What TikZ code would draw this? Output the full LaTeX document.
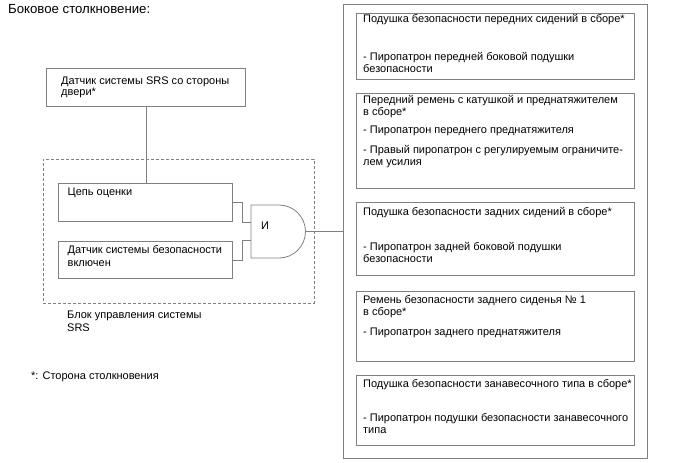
\documentclass[tikz,border=0pt]{standalone}
\usepackage{fontspec}
\setmainfont{Liberation Sans}
\definecolor{linegray}{RGB}{128,128,128}
\begin{document}
\begin{tikzpicture}[x=1pt,y=-1pt,
  box/.style={draw=linegray, line width=0.8pt, anchor=north west, inner sep=0pt},
  dbox/.style={draw=linegray, line width=0.7pt, dash pattern=on 3pt off 2pt, anchor=north west, inner sep=0pt},
  txt/.style={anchor=base west, inner sep=0pt, font=\fontsize{11}{13}\selectfont},
  wire/.style={draw=linegray, line width=0.8pt}]
\useasboundingbox (0,0) rectangle (688,463);

% title
\node[txt, font=\fontsize{13.2}{15}\selectfont] (title) at (8,13.5) {Боковое столкновение:};

% door sensor
\node[box, minimum width=199pt, minimum height=38pt] (door) at (46,68) {};
\node[txt] (doort1) at (61,84) {Датчик системы SRS со стороны};
\node[txt] (doort2) at (61,95.5) {двери*};

% ECU dashed
\node[dbox, minimum width=271pt, minimum height=144pt] (ecu) at (43,159) {};
\node[txt] (ecut1) at (67,318.5) {Блок управления системы};
\node[txt] (ecut2) at (67,331.5) {SRS};

% inner boxes
\node[box, minimum width=174pt, minimum height=38pt] (cep) at (58,183) {};
\node[txt] (cept) at (67.5,195.5) {Цепь оценки};
\node[box, minimum width=174pt, minimum height=37pt] (sens) at (58,241) {};
\node[txt] (senst1) at (67.5,253) {Датчик системы безопасности};
\node[txt] (senst2) at (67.5,266.5) {включен};

% AND gate
\coordinate (gin1) at (251,222);
\coordinate (gin2) at (251,240);
\coordinate (gout) at (305.5,231.5);
\draw[wire, fill=white] (251,205) -- (279,205) arc[start angle=-90, end angle=90, radius=26.5] -- (251,258) -- cycle;
\node[txt] (andt) at (261,229.5) {И};

% connectors
\draw[wire] (door.south) -- (door.south |- cep.north);
\draw[wire] (cep.east) -- ++(10,0) |- (gin1);
\draw[wire] (sens.east) -- ++(10,0) |- (gin2);

% right big box
\node[box, minimum width=304pt, minimum height=454pt] (big) at (343,4) {};
\draw[wire] (gout) -- (gout -| big.west);

% box 1
\node[box, minimum width=277.5pt, minimum height=66pt] (b1) at (356,13) {};
\node[txt] (b1t1) at (363,22) {Подушка безопасности передних сидений в сборе*};
\node[txt] (b1t2) at (363,60) {- Пиропатрон передней боковой подушки};
\node[txt] (b1t3) at (363,72) {безопасности};

% box 2
\node[box, minimum width=277.5pt, minimum height=95pt] (b2) at (356,93) {};
\node[txt] (b2t1) at (363,103) {Передний ремень с катушкой и преднатяжителем};
\node[txt] (b2t2) at (363,115) {в сборе*};
\node[txt] (b2t3) at (363,133.5) {- Пиропатрон переднего преднатяжителя};
\node[txt] (b2t4) at (363,153.5) {- Правый пиропатрон с регулируемым ограничите-};
\node[txt] (b2t5) at (363,165.5) {лем усилия};

% box 3
\node[box, minimum width=277.5pt, minimum height=73pt] (b3) at (356,202) {};
\node[txt] (b3t1) at (363,215) {Подушка безопасности задних сидений в сборе*};
\node[txt] (b3t2) at (363,250) {- Пиропатрон задней боковой подушки};
\node[txt] (b3t3) at (363,262) {безопасности};

% box 4
\node[box, minimum width=277.5pt, minimum height=70pt] (b4) at (356,291) {};
\node[txt] (b4t1) at (363,303) {Ремень безопасности заднего сиденья № 1};
\node[txt] (b4t2) at (363,315) {в сборе*};
\node[txt] (b4t3) at (363,335) {- Пиропатрон заднего преднатяжителя};

% box 5
\node[box, minimum width=277.5pt, minimum height=70pt] (b5) at (356,375) {};
\node[txt] (b5t1) at (363,387) {Подушка безопасности занавесочного типа в сборе*};
\node[txt] (b5t2) at (363,421) {- Пиропатрон подушки безопасности занавесочного};
\node[txt] (b5t3) at (363,433) {типа};

% footnote
\node[txt] (foot) at (31,379) {*: Сторона столкновения};
\end{tikzpicture}
\end{document}
